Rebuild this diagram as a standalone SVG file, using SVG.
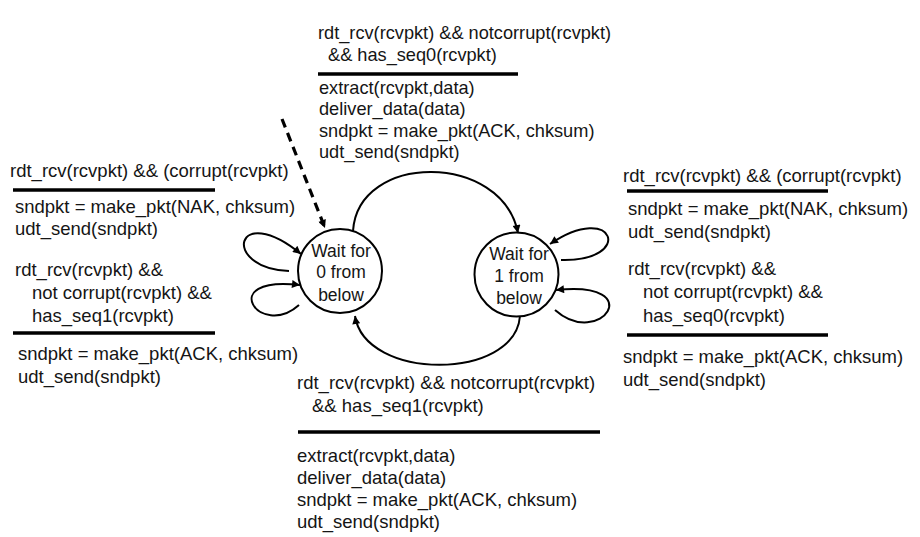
<svg xmlns="http://www.w3.org/2000/svg" width="920" height="537" viewBox="0 0 920 537">
<defs>
<style>
text{font-family:"Liberation Sans",Arial,sans-serif;fill:#151515;}
.lbl{font-size:18.5px;}
.top{font-size:18.2px;}
.st{font-size:17.5px;text-anchor:middle;}
.bar{stroke:#000;stroke-width:3.5;fill:none;}
.edge{stroke:#000;stroke-width:2;fill:none;marker-end:url(#ah);}
.state{fill:#fff;stroke:#000;stroke-width:2;}
</style>
<marker id="ah" viewBox="0 0 10 10" refX="10" refY="5" markerWidth="9" markerHeight="8" markerUnits="userSpaceOnUse" orient="auto">
<path d="M0,0 L10,5 L0,10 z" fill="#000"/>
</marker>
</defs>
<rect width="920" height="537" fill="#fff"/>

<g id="connectors">
<path d="M282,119 L325,228" stroke="#000" stroke-width="3.2" stroke-dasharray="9 6" fill="none" marker-end="url(#ah)"/>
<path class="edge" d="M353,231 C358,152 502,152 518,233"/>
<path class="edge" d="M520,316 C515,381 365,381 355,316"/>
<path class="edge" d="M289,271 C220,268 235,200 301,254"/>
<path class="edge" d="M299,305 C260,340 215,275 300,285"/>
<path class="edge" d="M561,260 C635,262 615,200 550,244"/>
<path class="edge" d="M555,310 C600,350 650,280 556,290"/>
</g>

<g id="state0">
<circle class="state" cx="340" cy="271" r="42"/>
<text class="st" x="341" y="257">Wait for</text>
<text class="st" x="341" y="278">0 from</text>
<text class="st" x="341" y="301">below</text>
</g>

<g id="state1">
<circle class="state" cx="516.5" cy="274.5" r="42"/>
<text class="st" x="519" y="260">Wait for</text>
<text class="st" x="519" y="282">1 from</text>
<text class="st" x="519" y="304">below</text>
</g>

<g id="label-top">
<text class="top" x="318" y="39">rdt_rcv(rcvpkt) &amp;&amp; notcorrupt(rcvpkt)</text>
<text class="top" x="328" y="61">&amp;&amp; has_seq0(rcvpkt)</text>
<line class="bar" x1="318" y1="74" x2="518" y2="74"/>
<text class="top" x="319" y="94">extract(rcvpkt,data)</text>
<text class="top" x="319" y="115">deliver_data(data)</text>
<text class="top" x="319" y="137">sndpkt = make_pkt(ACK, chksum)</text>
<text class="top" x="319" y="158">udt_send(sndpkt)</text>
</g>

<g id="label-left-corrupt">
<text class="lbl" x="10" y="177">rdt_rcv(rcvpkt) &amp;&amp; (corrupt(rcvpkt)</text>
<line class="bar" x1="13" y1="190" x2="215" y2="190"/>
<text class="lbl" x="15" y="213">sndpkt = make_pkt(NAK, chksum)</text>
<text class="lbl" x="15" y="235">udt_send(sndpkt)</text>
</g>

<g id="label-left-seq1">
<text class="lbl" x="15" y="276">rdt_rcv(rcvpkt) &amp;&amp;</text>
<text class="lbl" x="32" y="299">not corrupt(rcvpkt) &amp;&amp;</text>
<text class="lbl" x="32" y="322">has_seq1(rcvpkt)</text>
<line class="bar" x1="13" y1="333" x2="215" y2="333"/>
<text class="lbl" x="18" y="360">sndpkt = make_pkt(ACK, chksum)</text>
<text class="lbl" x="18" y="383">udt_send(sndpkt)</text>
</g>

<g id="label-right-corrupt">
<text class="lbl" x="623" y="182">rdt_rcv(rcvpkt) &amp;&amp; (corrupt(rcvpkt)</text>
<line class="bar" x1="627" y1="191" x2="828" y2="191"/>
<text class="lbl" x="628" y="215">sndpkt = make_pkt(NAK, chksum)</text>
<text class="lbl" x="628" y="238">udt_send(sndpkt)</text>
</g>

<g id="label-right-seq0">
<text class="lbl" x="628" y="275">rdt_rcv(rcvpkt) &amp;&amp;</text>
<text class="lbl" x="643" y="298">not corrupt(rcvpkt) &amp;&amp;</text>
<text class="lbl" x="643" y="322">has_seq0(rcvpkt)</text>
<line class="bar" x1="627" y1="335" x2="828" y2="335"/>
<text class="lbl" x="623" y="363">sndpkt = make_pkt(ACK, chksum)</text>
<text class="lbl" x="623" y="386">udt_send(sndpkt)</text>
</g>

<g id="label-bottom">
<text class="lbl" x="297" y="389">rdt_rcv(rcvpkt) &amp;&amp; notcorrupt(rcvpkt)</text>
<text class="lbl" x="312" y="412">&amp;&amp; has_seq1(rcvpkt)</text>
<line class="bar" x1="298" y1="432" x2="600" y2="432"/>
<text class="lbl" x="297" y="462">extract(rcvpkt,data)</text>
<text class="lbl" x="297" y="484">deliver_data(data)</text>
<text class="lbl" x="297" y="506">sndpkt = make_pkt(ACK, chksum)</text>
<text class="lbl" x="297" y="528">udt_send(sndpkt)</text>
</g>
</svg>
